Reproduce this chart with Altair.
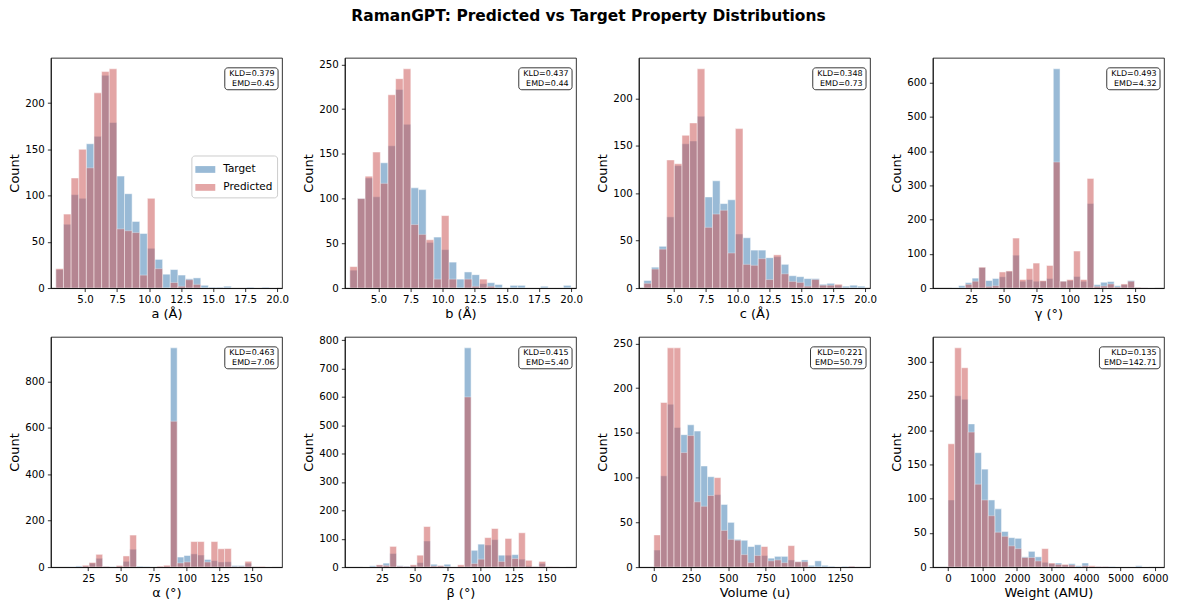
import altair as alt
import pandas as pd

TITLE = "RamanGPT: Predicted vs Target Property Distributions"
SERIES = ["Target", "Predicted"]
COLORS = ["#4682b4", "#cd5c5c"]
FONT = "DejaVu Sans"

# ---------------- data ----------------
# lattice a (29 bins from 2.72 to 20)
A_START, A_END, A_BINS = 2.72, 20.0, 29
A_TARGET = [20, 69, 101, 97, 156, 164, 230, 179, 121, 102, 72, 59, 43, 31, 15, 20, 14, 10, 11, 3, 1, 1, 2, 0, 0, 1, 0, 1, 0]
A_PRED = [21, 80, 119, 150, 130, 211, 234, 237, 64, 62, 60, 14, 97, 21, 0, 6, 2, 9, 4, 0, 0, 0, 0, 0, 0, 0, 0, 0, 0]

# lattice b
B_START, B_END, B_BINS = 2.77, 20.0, 29
B_TARGET = [20, 100, 123, 102, 140, 159, 222, 183, 112, 110, 51, 57, 43, 29, 10, 18, 15, 5, 6, 4, 0, 3, 3, 0, 0, 2, 0, 0, 3]
B_PRED = [24, 100, 125, 152, 117, 216, 234, 245, 71, 60, 54, 10, 81, 10, 0, 10, 2, 10, 2, 0, 0, 0, 0, 0, 0, 0, 0, 0, 0]

# lattice c
C_START, C_END, C_BINS = 2.62, 20.0, 29
C_TARGET = [8, 22, 44, 75, 129, 152, 155, 181, 96, 113, 89, 93, 57, 53, 40, 40, 32, 33, 25, 13, 12, 10, 10, 4, 5, 3, 2, 3, 2]
C_PRED = [5, 20, 41, 135, 131, 161, 174, 231, 64, 78, 82, 37, 168, 25, 24, 31, 9, 35, 15, 7, 6, 2, 9, 3, 3, 4, 0, 0, 0]

# angles (30 bins, start 10.25, width 5.15)
ANG_START, ANG_WIDTH = 10.25, 5.15
G_TARGET = [1, 7, 16, 29, 60, 22, 28, 33, 49, 96, 20, 25, 20, 20, 28, 640, 20, 22, 34, 20, 247, 10, 17, 19, 7, 10, 22, 2, 1, 0]
G_PRED = [0, 0, 11, 20, 61, 5, 7, 47, 50, 146, 25, 57, 73, 22, 66, 368, 20, 25, 108, 25, 320, 5, 6, 12, 3, 12, 20, 2, 1, 0]
AL_TARGET = [2, 5, 5, 17, 38, 3, 2, 4, 25, 77, 4, 3, 1, 2, 4, 944, 43, 50, 57, 52, 33, 28, 22, 23, 7, 7, 17, 2, 1, 0]
AL_PRED = [0, 0, 8, 20, 55, 3, 0, 7, 48, 138, 0, 0, 0, 4, 8, 628, 18, 22, 110, 110, 22, 110, 79, 80, 2, 3, 25, 2, 3, 0]
BE_TARGET = [0, 5, 7, 14, 48, 5, 4, 5, 16, 92, 10, 5, 10, 0, 2, 773, 59, 81, 78, 97, 42, 42, 44, 28, 5, 2, 13, 1, 1, 0]
BE_PRED = [0, 0, 8, 6, 73, 3, 2, 8, 42, 143, 4, 5, 2, 0, 8, 600, 13, 28, 104, 136, 20, 101, 30, 121, 24, 2, 20, 2, 1, 0]

# volume (30 bins, width 45)
V_START, V_WIDTH = 0.0, 45.0
V_TARGET = [19, 102, 182, 156, 148, 159, 152, 113, 101, 81, 70, 50, 31, 30, 23, 25, 13, 10, 12, 12, 8, 6, 8, 2, 7, 2, 1, 0, 1, 1]
V_PRED = [36, 184, 245, 245, 128, 147, 73, 68, 80, 100, 41, 31, 30, 14, 5, 13, 23, 7, 8, 5, 24, 6, 6, 0, 0, 0, 0, 0, 0, 1]

# weight (30 bins, width 194)
WT_START, WT_WIDTH = 0.0, 194.0
WT_TARGET = [98, 250, 245, 209, 167, 143, 98, 85, 52, 43, 42, 15, 23, 15, 7, 5, 6, 3, 5, 2, 6, 0, 1, 1, 1, 0, 0, 0, 2, 0]
WT_PRED = [180, 320, 291, 197, 121, 98, 75, 51, 45, 31, 27, 14, 14, 9, 27, 6, 4, 4, 3, 0, 2, 2, 1, 1, 0, 0, 0, 0, 0, 0]

KLD = ["0.379", "0.437", "0.348", "0.493", "0.463", "0.415", "0.221", "0.135"]
EMD = ["0.45", "0.44", "0.73", "4.32", "7.06", "5.40", "50.79", "142.71"]
XTITLES = ["a (Å)", "b (Å)", "c (Å)", "γ (°)", "α (°)", "β (°)", "Volume (u)", "Weight (AMU)"]

LEN_TICKS = [5.0, 7.5, 10.0, 12.5, 15.0, 17.5, 20.0]
ANG_TICKS = [25, 50, 75, 100, 125, 150]
VOL_TICKS = [0, 250, 500, 750, 1000, 1250]
WT_TICKS = [0, 1000, 2000, 3000, 4000, 5000, 6000]

W, H = 232, 231

CHAR_W = {"K": 0.656, "L": 0.557, "D": 0.770, "E": 0.632, "M": 0.863, "=": 0.838, ".": 0.318}


def text_width(s, size):
    return sum(CHAR_W.get(ch, 0.636) for ch in s) * size


def panel(x0, w, target, pred, xtitle, xdom, xticks, xfmt, yticks, kld, emd, show_legend=False):
    rows = []
    for s, arr in (("Target", target), ("Predicted", pred)):
        for i, c in enumerate(arr):
            rows.append({"lo": x0 + i * w, "hi": x0 + (i + 1) * w, "count": c, "series": s})
    df = pd.DataFrame(rows)
    ymax = max(max(target), max(pred)) * 1.05

    if show_legend:
        legend = alt.Legend(
            title=None, orient="none", legendX=141, legendY=98,
            symbolType="M-1,-0.34H1V0.34H-1Z", symbolSize=400, symbolOpacity=0.55,
            symbolStrokeWidth=0, labelFontSize=10.5, labelFont=FONT, labelColor="black",
            labelOffset=8, rowPadding=2, padding=4, strokeColor="#cccccc",
            fillColor="rgba(255,255,255,0.8)", cornerRadius=3,
        )
    else:
        legend = None
    color = alt.Color("series:N", scale=alt.Scale(domain=SERIES, range=COLORS), legend=legend)
    xenc = alt.X("lo:Q", scale=alt.Scale(domain=xdom, nice=False, zero=False),
                 axis=alt.Axis(values=xticks, format=xfmt, title=xtitle))
    yenc = alt.Y("count:Q", stack=None, scale=alt.Scale(domain=[0, ymax], nice=False),
                 axis=alt.Axis(values=yticks, title="Count"))
    base = alt.Chart(df)
    bar_kw = dict(opacity=0.55, stroke="white", strokeWidth=0.5, clip=True, orient="vertical")
    t_layer = base.transform_filter(alt.datum.series == "Target").mark_bar(**bar_kw).encode(
        x=xenc, x2="hi:Q", y=yenc, y2=alt.datum(0), color=color)
    p_layer = base.transform_filter(alt.datum.series == "Predicted").mark_bar(**bar_kw).encode(
        x=xenc, x2="hi:Q", y=yenc, y2=alt.datum(0), color=color)

    l1, l2 = f"KLD={kld}", f"EMD={emd}"
    bw = max(text_width(l1, 8), text_width(l2, 8)) + 8
    info = pd.DataFrame({"t": [l1 + "\n" + l2]})
    box = alt.Chart(info).mark_rect(fill="white", stroke="#222222", strokeWidth=0.9, cornerRadius=3).encode(
        x=alt.value(W - 4 - bw), x2=alt.value(W - 4), y=alt.value(10), y2=alt.value(32))
    txt = alt.Chart(info).mark_text(align="right", baseline="top", fontSize=8, font=FONT,
                                    lineBreak="\n", lineHeight=9.3, color="black").encode(
        x=alt.value(W - 7.5), y=alt.value(12.5), text="t:N")
    return alt.layer(t_layer, p_layer, box, txt).properties(width=W, height=H)


pa = panel(A_START, (A_END - A_START) / A_BINS, A_TARGET, A_PRED, XTITLES[0], [2.72, 20.0], LEN_TICKS, ".1f",
           [0, 50, 100, 150, 200], KLD[0], EMD[0], show_legend=True)
pb = panel(B_START, (B_END - B_START) / B_BINS, B_TARGET, B_PRED, XTITLES[1], [2.77, 20.0], LEN_TICKS, ".1f",
           [0, 50, 100, 150, 200, 250], KLD[1], EMD[1])
pc = panel(C_START, (C_END - C_START) / C_BINS, C_TARGET, C_PRED, XTITLES[2], [2.62, 20.0], LEN_TICKS, ".1f",
           [0, 50, 100, 150, 200], KLD[2], EMD[2])
pg = panel(ANG_START, ANG_WIDTH, G_TARGET, G_PRED, XTITLES[3], [-0.4, 168.0], ANG_TICKS, "d",
           [0, 100, 200, 300, 400, 500, 600], KLD[3], EMD[3])
pal = panel(ANG_START, ANG_WIDTH, AL_TARGET, AL_PRED, XTITLES[4], [0.4, 168.6], ANG_TICKS, "d",
            [0, 200, 400, 600, 800], KLD[4], EMD[4])
pbe = panel(ANG_START, ANG_WIDTH, BE_TARGET, BE_PRED, XTITLES[5], [0.5, 168.6], ANG_TICKS, "d",
            [0, 100, 200, 300, 400, 500, 600, 700, 800], KLD[5], EMD[5])
pv = panel(V_START, V_WIDTH, V_TARGET, V_PRED, XTITLES[6], [-67.5, 1417.5], VOL_TICKS, "d",
           [0, 50, 100, 150, 200, 250], KLD[6], EMD[6])
pw = panel(WT_START, WT_WIDTH, WT_TARGET, WT_PRED, XTITLES[7], [-295, 6115], WT_TICKS, "d",
           [0, 50, 100, 150, 200, 250, 300], KLD[7], EMD[7])

chart = alt.concat(
    pa, pb, pc, pg, pal, pbe, pv, pw, columns=4, spacing={"row": 49, "column": 63}, bounds="flush"
).resolve_scale(color="independent").resolve_legend(color="independent").properties(
    title=alt.TitleParams(TITLE, fontSize=15.5, fontWeight="bold", font=FONT, color="black",
                          anchor="middle", offset=33),
    padding={"left": 0, "top": 0, "right": 0, "bottom": 0},
).configure(font=FONT).configure_view(
    stroke="black", strokeWidth=0.8
).configure_axis(
    grid=False, domainColor="black", domainWidth=0.8, tickColor="black", tickWidth=0.8,
    tickSize=3.5, labelFont=FONT, labelFontSize=10.3, labelColor="black", labelPadding=3,
    titleFont=FONT, titleFontSize=13, titleFontWeight="normal", titleColor="black",
    titlePadding=3, labelFlush=False, labelOverlap=False,
)

chart.save("out.html", embed_options={"renderer": "svg", "actions": False})
